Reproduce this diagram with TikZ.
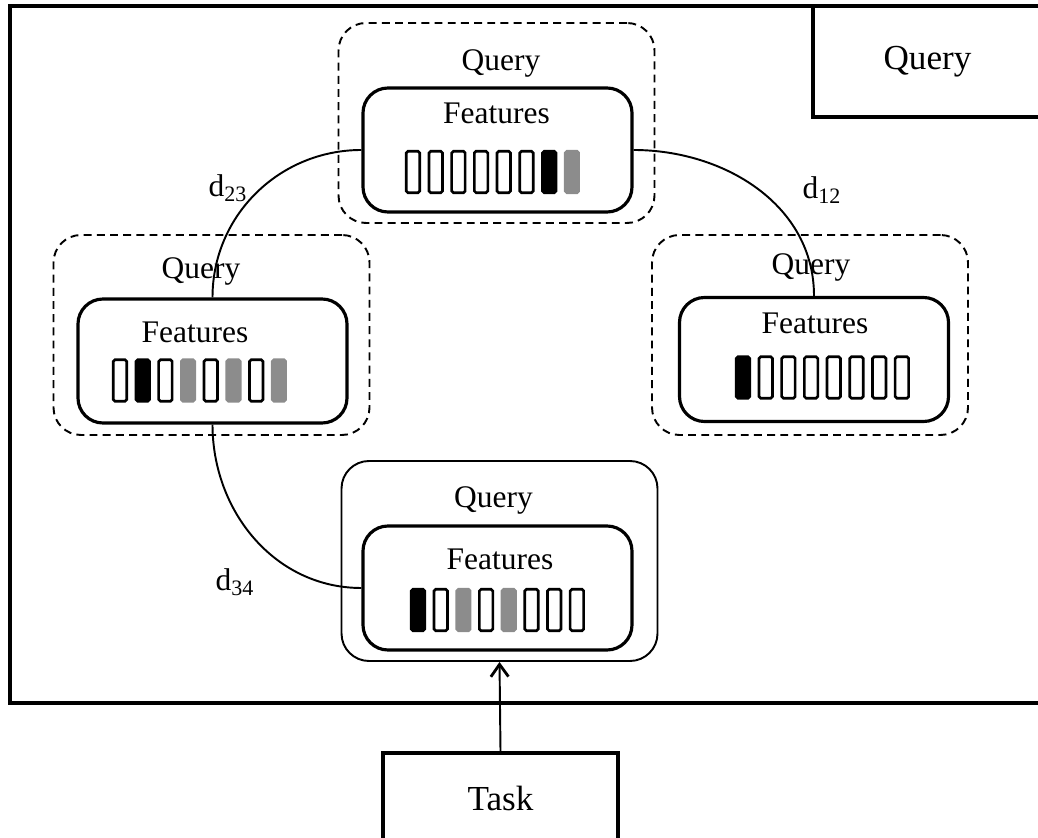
\documentclass[tikz,border=0pt]{standalone}
\usepackage{fontspec}
\setmainfont{Liberation Serif}
\usetikzlibrary{arrows.meta}
\definecolor{bargray}{RGB}{140,140,140}
\tikzset{
    txt/.style={inner sep=0pt, font=\fontsize{17.9}{20}\selectfont},
    bigbox/.style={draw, line width=2.2pt, font=\fontsize{20}{22}\selectfont},
    group/.style={draw, rounded corners=0.55cm, line width=1.1pt, minimum width=6.32cm, minimum height=4cm},
    dashgroup/.style={group, dash pattern=on 4.5pt off 3pt},
    featbox/.style={draw, rounded corners=0.5cm, line width=1.8pt, minimum width=5.38cm, minimum height=2.48cm},
    bar/.style={line width=1.5pt, rounded corners=1pt, minimum width=0.27cm, minimum height=0.83cm, inner sep=0pt},
    bar w/.style={bar, draw=black, fill=white},
    bar b/.style={bar, draw=black, fill=black},
    bar g/.style={bar, draw=bargray, fill=bargray},
    link/.style={line width=1.1pt},
}
\begin{document}
\begin{tikzpicture}
\useasboundingbox (0,0) rectangle (20.76,16.74);
\clip (0,0) rectangle (20.76,16.74);
\draw[line width=2.3pt] (0.2,2.68) rectangle (21.5,16.62);
\node[bigbox, minimum width=4.58cm, minimum height=2.22cm] (qbox) at (18.55,15.51) {Query};
\node[bigbox, minimum width=4.7cm, minimum height=1.8cm] (task) at (10.01,0.78) {Task};
\node[dashgroup] (topg) at (9.93,14.28) {};
\node[dashgroup] (leftg) at (4.23,10.04) {};
\node[dashgroup] (rightg) at (16.2,10.04) {};
\node[group] (botg) at (9.99,5.52) {};
\node[featbox] (topf) at (9.95,13.74) {};
\node[featbox] (leftf) at (4.25,9.52) {};
\node[featbox] (rightf) at (16.28,9.55) {};
\node[featbox] (botf) at (9.95,4.98) {};
\node[txt] (topq) at (10.02,15.47) {Query};
\node[txt] (leftq) at (4.02,11.31) {Query};
\node[txt] (rightq) at (16.22,11.39) {Query};
\node[txt] (botq) at (9.87,6.74) {Query};
\node[txt] (topt) at (9.93,14.47) {Features};
\node[txt] (leftt) at (3.9,10.1) {Features};
\node[txt] (rightt) at (16.3,10.28) {Features};
\node[txt] (bott) at (10.0,5.56) {Features};
\foreach \grp/\bx/\by/\pat in {top/8.26/13.3/{w,w,w,w,w,w,b,g},
                              left/2.4/9.13/{w,b,w,g,w,g,w,g},
                              right/14.86/9.19/{b,w,w,w,w,w,w,w},
                              bot/8.36/4.54/{b,w,g,w,g,w,w,w}}
    \foreach \c [count=\i] in \pat
        \node[bar \c] (\grp-\i) at ({\bx+(\i-1)*0.454},\by) {};
\draw[link] (topf.east) to[out=0,in=90] (rightf.north);
\draw[link] (topf.west) to[out=180,in=90] (leftf.north);
\draw[link] (leftf.south) to[out=-90,in=180] (botf.west);
\node[txt] (d12) at (16.44,12.94) {d\textsubscript{12}};
\node[txt] (d23) at (4.56,12.98) {d\textsubscript{23}};
\node[txt] (d34) at (4.7,5.1) {d\textsubscript{34}};
\draw[link, -{Straight Barb[length=7pt,width=10pt,line width=1.6pt]}] (task.north) -- (botg.south);
\end{tikzpicture}
\end{document}
